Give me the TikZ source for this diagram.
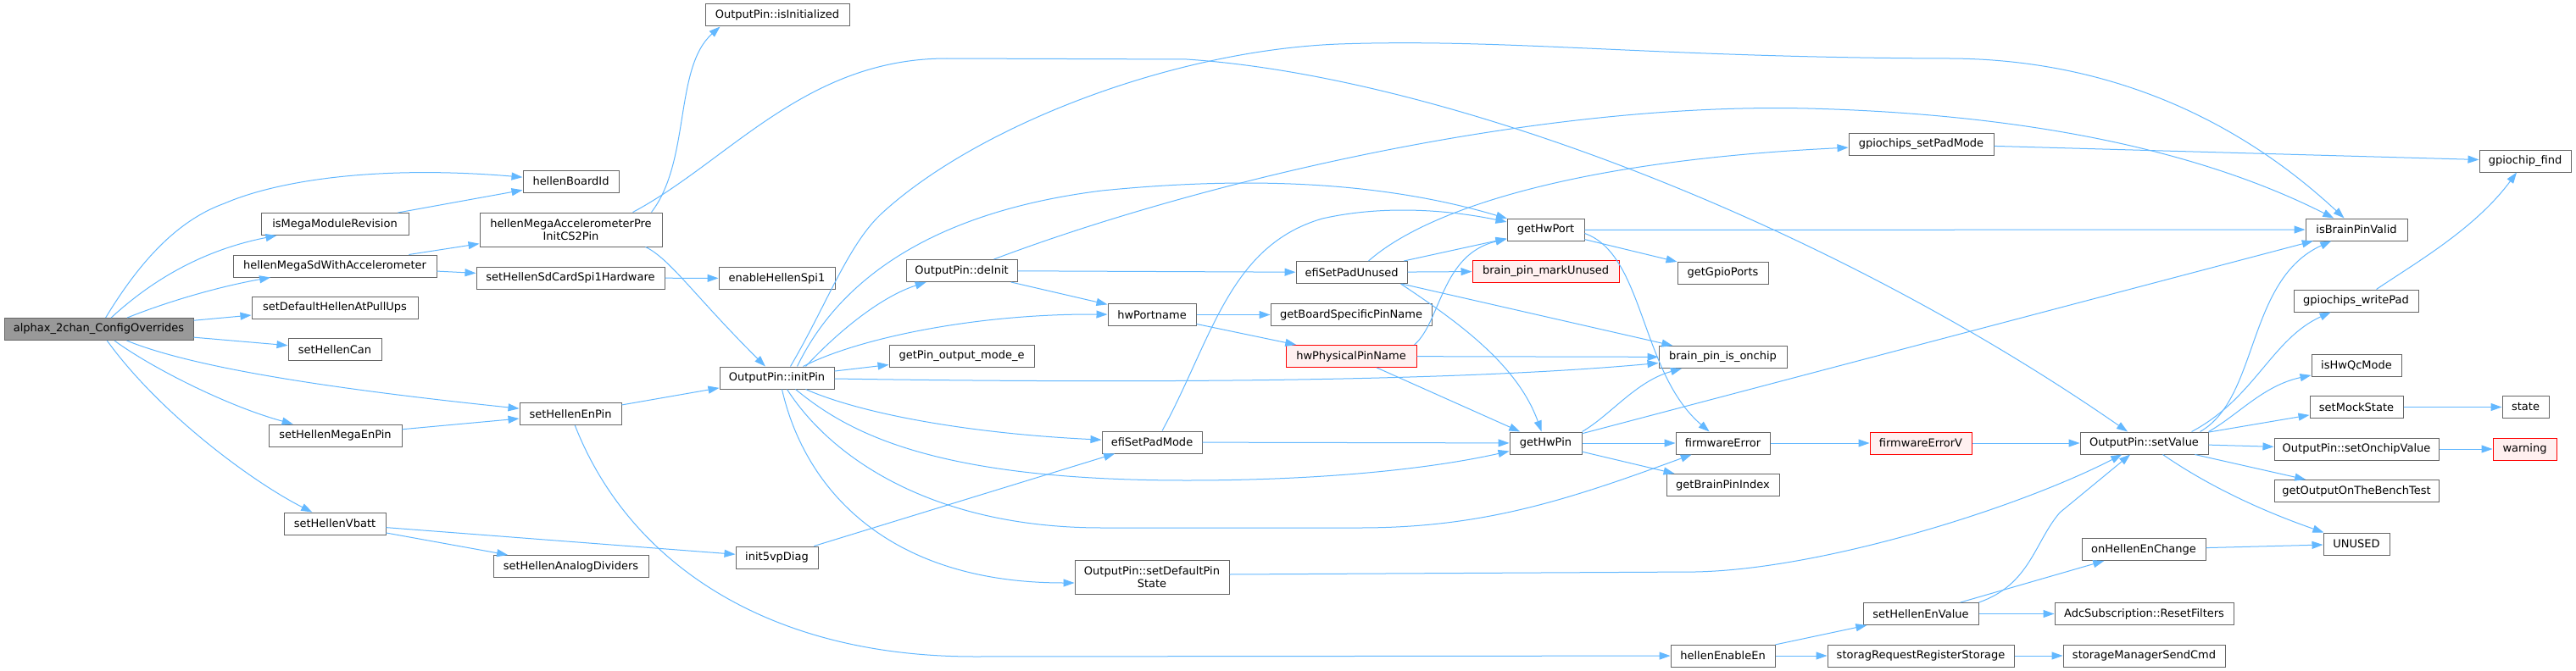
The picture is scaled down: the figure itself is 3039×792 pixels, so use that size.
\documentclass[tikz,border=0pt]{standalone}
\usepackage{fontspec}
\setmainfont{DejaVu Sans}
\usetikzlibrary{arrows.meta,calc}
\definecolor{edgec}{HTML}{63B8FF}
\definecolor{boxline}{HTML}{666666}
\definecolor{rootfill}{HTML}{999999}
\definecolor{redfill}{HTML}{FFF0F0}
\definecolor{redline}{HTML}{FF0000}
\begin{document}
\begin{tikzpicture}[x=1pt,y=-1pt,
  box/.style={draw=boxline, fill=white, line width=1pt, rectangle, inner sep=0pt, align=center,
    font=\fontsize{13}{15}\selectfont, minimum height=26pt},
  tallbox/.style={box, minimum height=40pt},
  rootbox/.style={box, fill=rootfill},
  redbox/.style={box, draw=redline, fill=redfill},
  edge/.style={draw=edgec, line width=1pt, -{Triangle[length=13pt,width=9pt]}}]
\fill[white] (0,0) rectangle (3039,792);
\useasboundingbox (0,0) rectangle (3039,792);

% ---- nodes ----
\node[rootbox, minimum width=223pt] (root) at (116.5,388.5) {alphax\_2chan\_ConfigOverrides};
\node[box, minimum width=113pt] (hbid) at (673.5,214) {hellenBoardId};
\node[box, minimum width=174pt] (ismega) at (395,264.5) {isMegaModuleRevision};
\node[tallbox, minimum width=215pt] (accel) at (673.5,271) {hellenMegaAccelerometerPre\\InitCS2Pin};
\node[box, minimum width=240pt] (megasd) at (395,314) {hellenMegaSdWithAccelerometer};
\node[box, minimum width=222pt] (sdcard) at (673,328) {setHellenSdCardSpi1Hardware};
\node[box, minimum width=196pt] (pullups) at (395,363) {setDefaultHellenAtPullUps};
\node[box, minimum width=110pt] (can) at (395,412.5) {setHellenCan};
\node[box, minimum width=120pt] (enpin) at (673,488.5) {setHellenEnPin};
\node[box, minimum width=157pt] (megaen) at (395.5,514) {setHellenMegaEnPin};
\node[box, minimum width=120pt] (vbatt) at (395,618) {setHellenVbatt};
\node[box, minimum width=183pt] (analog) at (673.5,668.5) {setHellenAnalogDividers};
\node[box, minimum width=170pt] (isinit) at (917,18) {OutputPin::isInitialized};
\node[box, minimum width=137pt] (spi1) at (916.5,328.5) {enableHellenSpi1};
\node[box, minimum width=131pt] (deinit) at (1134.5,319.5) {OutputPin::deInit};
\node[box, minimum width=104pt] (hwport) at (1359,371.5) {hwPortname};
\node[box, minimum width=135pt] (initpin) at (916.5,446) {OutputPin::initPin};
\node[box, minimum width=171pt] (getpin) at (1134.5,420.5) {getPin\_output\_mode\_e};
\node[box, minimum width=118pt] (padmode) at (1359,522) {efiSetPadMode};
\node[box, minimum width=97pt] (diag) at (916.5,658) {init5vpDiag};
\node[tallbox, minimum width=182pt] (defstate) at (1359,681) {OutputPin::setDefaultPin\\State};
\node[box, minimum width=171pt] (gsetpad) at (2266.5,170) {gpiochips\_setPadMode};
\node[box, minimum width=91pt] (gethwport) at (1823.5,271.5) {getHwPort};
\node[box, minimum width=131pt] (padunused) at (1594.5,321.5) {efiSetPadUnused};
\node[redbox, minimum width=173pt] (markunused) at (1823.5,320) {brain\_pin\_markUnused};
\node[box, minimum width=107pt] (gpioports) at (2032.5,322) {getGpioPorts};
\node[box, minimum width=190pt] (boardspec) at (1594,371.5) {getBoardSpecificPinName};
\node[redbox, minimum width=154pt] (physname) at (1594,420.5) {hwPhysicalPinName};
\node[box, minimum width=151pt] (onchip) at (2032.5,421.5) {brain\_pin\_is\_onchip};
\node[box, minimum width=85pt] (gethwpin) at (1823.5,523) {getHwPin};
\node[box, minimum width=111pt] (fwerr) at (2032.5,523) {firmwareError};
\node[redbox, minimum width=120pt] (fwerrv) at (2266,523) {firmwareErrorV};
\node[box, minimum width=133pt] (brainidx) at (2032.5,572.5) {getBrainPinIndex};
\node[box, minimum width=136pt] (henval) at (2266,724.5) {setHellenEnValue};
\node[box, minimum width=123pt] (enableen) at (2032.5,774) {hellenEnableEn};
\node[box, minimum width=220pt] (storreq) at (2266,774) {storagRequestRegisterStorage};
\node[box, minimum width=108pt] (gfind) at (2979,190) {gpiochip\_find};
\node[box, minimum width=120pt] (bpvalid) at (2780,271) {isBrainPinValid};
\node[box, minimum width=147pt] (wpad) at (2779.5,355) {gpiochips\_writePad};
\node[box, minimum width=106pt] (qc) at (2780,431.5) {isHwQcMode};
\node[box, minimum width=110pt] (mock) at (2780,480.5) {setMockState};
\node[box, minimum width=55pt] (state) at (2979.5,480.5) {state};
\node[box, minimum width=151pt] (setval) at (2529.5,523) {OutputPin::setValue};
\node[box, minimum width=194pt] (onchipval) at (2780,530) {OutputPin::setOnchipValue};
\node[redbox, minimum width=75pt] (warn) at (2978.5,530) {warning};
\node[box, minimum width=194pt] (bench) at (2780,579.5) {getOutputOnTheBenchTest};
\node[box, minimum width=78pt] (unused) at (2780,642) {UNUSED};
\node[box, minimum width=146pt] (henchg) at (2529,648.5) {onHellenEnChange};
\node[box, minimum width=211pt] (adc) at (2529.5,724.5) {AdcSubscription::ResetFilters};
\node[box, minimum width=191pt] (smcmd) at (2529.5,774) {storageManagerSendCmd};

% ---- edges ----
\draw[edge] (root) .. controls (170,300) and (215,258) .. (265,240) .. controls (330,212) and (450,195) .. (hbid);
\draw[edge] (root) .. controls (180,330) and (240,295) .. (ismega);
\draw[edge] (root) .. controls (200,355) and (260,338) .. (megasd);
\draw[edge] (root) -- (pullups);
\draw[edge] (root) -- (can);
\draw[edge] (root) .. controls (230,435) and (400,460) .. (enpin);
\draw[edge] (root) .. controls (180,435) and (270,480) .. (megaen);
\draw[edge] (root) .. controls (190,490) and (300,570) .. (vbatt);
\draw[edge] (ismega) -- (hbid);
\draw[edge] (megasd) -- (accel);
\draw[edge] (megasd) -- (sdcard);
\draw[edge] (megaen) -- (enpin);
\draw[edge] (vbatt) -- (analog);
\draw[edge] (vbatt) -- (diag);
\draw[edge] (enpin) .. controls (740,660) and (900,775) .. (1150,775) -- (enableen);
\draw[edge] (enpin) -- (initpin);
\draw[edge] (sdcard) -- (spi1);
\draw[edge] ($(accel.north)+(95,0)$) .. controls (815,190) and (795,80) .. ($(isinit.south west)+(18,0)$);
\draw[edge] ($(accel.south)+(88,0)$) .. controls (790,305) and (820,350) .. (initpin);
\draw[edge] ($(accel.north)+(73,0)$) .. controls (860,190) and (950,69) .. (1117,69) -- (1400,70) .. controls (1700,90) and (2150,260) .. (setval);

\draw[edge] ($(initpin.north)+(16,0)$) .. controls (975,360) and (1000,290) .. (1039,253) .. controls (1150,150) and (1380,60) .. (1579,52) .. controls (1780,45) and (1950,68) .. (2300,69) .. controls (2500,70) and (2650,150) .. (bpvalid);
\draw[edge] ($(initpin.north)+(24,0)$) .. controls (990,330) and (1100,250) .. (1300,225) .. controls (1500,205) and (1650,220) .. (gethwport);
\draw[edge] ($(initpin.north)+(34,0)$) .. controls (990,390) and (1040,350) .. (deinit);
\draw[edge] ($(initpin.north)+(31,0)$) .. controls (1010,400) and (1150,370) .. (hwport);
\draw[edge] (initpin) -- (getpin);
\draw[edge] ($(initpin.east)+(0,1)$) .. controls (1300,452) and (1700,452) .. (onchip);
\draw[edge] ($(initpin.south)+(34,0)$) .. controls (1020,490) and (1150,512) .. (padmode);
\draw[edge] ($(initpin.south)+(22,0)$) .. controls (1000,510) and (1100,567) .. (1400,567) .. controls (1550,567) and (1680,555) .. (gethwpin);
\draw[edge] ($(initpin.south)+(12,0)$) .. controls (980,540) and (1100,623) .. (1300,623) -- (1604,623) .. controls (1750,623) and (1850,590) .. (fwerr);
\draw[edge] ($(initpin.south)+(6,0)$) .. controls (950,580) and (1050,688) .. ($(defstate.west)+(0,7)$);

\draw[edge] ($(deinit.north)+(38,0)$) .. controls (1400,220) and (1800,120) .. (2133,128) .. controls (2400,135) and (2600,180) .. (bpvalid);
\draw[edge] (deinit) -- (padunused);
\draw[edge] (deinit) -- (hwport);
\draw[edge] (hwport) -- (boardspec);
\draw[edge] (hwport) -- (physname);

\draw[edge] ($(padmode.north)+(12,0)$) .. controls (1430,400) and (1450,290) .. (1560,258) .. controls (1640,240) and (1720,250) .. (gethwport);
\draw[edge] (padmode) -- (gethwpin);
\draw[edge] (diag) -- (padmode);
\draw[edge] ($(defstate.east)+(0,-3)$) -- (2000,675) .. controls (2150,672) and (2380,600) .. (setval);

\draw[edge] ($(padunused.north)+(20,0)$) .. controls (1680,250) and (1850,190) .. (gsetpad);
\draw[edge] (padunused) -- (gethwport);
\draw[edge] (padunused) -- (markunused);
\draw[edge] ($(padunused.south east)+(-8,0)$) .. controls (1720,380) and (1790,430) .. (gethwpin);
\draw[edge] (padunused) -- (onchip);

\draw[edge] ($(physname.north east)+(-3,0)$) .. controls (1700,380) and (1700,300) .. (gethwport);
\draw[edge] (physname) -- (onchip);
\draw[edge] (physname) -- (gethwpin);

\draw[edge] (gethwport) -- (bpvalid);
\draw[edge] (gethwport) -- (gpioports);
\draw[edge] ($(gethwport.east)+(0,4)$) .. controls (1940,300) and (1935,440) .. (fwerr);

\draw[edge] (gethwpin.north east) .. controls (1900,490) and (1930,450) .. (onchip);
\draw[edge] (gethwpin) -- (fwerr);
\draw[edge] (gethwpin) -- (brainidx);
\draw[edge] (gethwpin) -- (bpvalid);

\draw[edge] (fwerr) -- (fwerrv);
\draw[edge] (fwerrv) -- (setval);

\draw[edge] ($(setval.north east)+(-10,0)$) .. controls (2665,470) and (2650,330) .. (bpvalid);
\draw[edge] ($(setval.north east)+(-20,0)$) .. controls (2660,470) and (2680,400) .. (wpad);
\draw[edge] (setval.north east) .. controls (2640,490) and (2670,455) .. (qc);
\draw[edge] (setval) -- (mock);
\draw[edge] (setval) -- (onchipval);
\draw[edge] (setval) -- (bench);
\draw[edge] ($(setval.south)+(22,0)$) .. controls (2600,570) and (2660,600) .. (unused);

\draw[edge] (mock) -- (state);
\draw[edge] (onchipval) -- (warn);
\draw[edge] (henchg) -- (unused);
\draw[edge] ($(wpad.north)+(24,0)$) .. controls (2850,310) and (2920,270) .. (gfind);
\draw[edge] (gsetpad) -- (gfind);

\draw[edge] (henval) -- (henchg);
\draw[edge] (henval.north east) .. controls (2395,690) and (2400,640) .. (2430,605) -- (setval);
\draw[edge] (henval) -- (adc);
\draw[edge] (enableen) -- (henval);
\draw[edge] (enableen) -- (storreq);
\draw[edge] (storreq) -- (smcmd);
\end{tikzpicture}
\end{document}
